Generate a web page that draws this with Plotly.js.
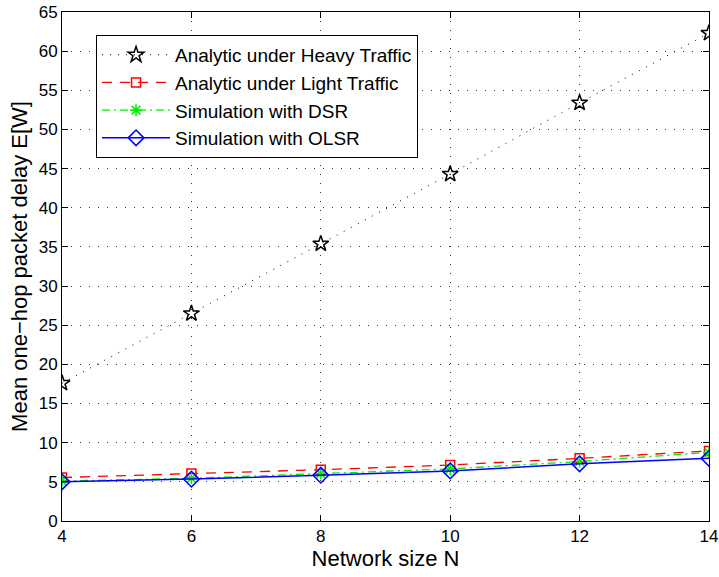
<!DOCTYPE html>
<html>
<head>
<meta charset="utf-8">
<script src="https://cdn.plot.ly/plotly-3.0.1.min.js"></script>
<style>html,body{margin:0;padding:0;background:#fff;}#chart{width:719px;height:577px;}</style>
</head>
<body>
<div id="chart"></div>
<script>
const networkSize = [4, 6, 8, 10, 12, 14];
const heavyTraffic = [17.6, 26.5, 35.4, 44.3, 53.4, 62.3];
const lightTraffic = [5.55, 6.05, 6.55, 7.15, 8.0, 8.95];
const simDSR = [5.1, 5.45, 6.05, 6.65, 7.6, 8.75];
const simOLSR = [5.0, 5.35, 5.85, 6.4, 7.3, 8.0];
const seriesNames = ['Analytic under Heavy Traffic', 'Analytic under Light Traffic', 'Simulation with DSR', 'Simulation with OLSR'];
const xTicks = [4, 6, 8, 10, 12, 14];
const yTicks = [0, 5, 10, 15, 20, 25, 30, 35, 40, 45, 50, 55, 60, 65];

const FONT = 'Liberation Sans, Arial, Helvetica, sans-serif';

const traces = [
  {x: networkSize, y: heavyTraffic, name: seriesNames[0], mode: 'lines+markers',
   line: {color: '#000', width: 1, dash: '1px,7px'},
   marker: {symbol: 'star-open', size: 12, color: '#000', line: {color: '#000', width: 1.5}}},
  {x: networkSize, y: lightTraffic, name: seriesNames[1], mode: 'lines+markers',
   line: {color: '#ff0000', width: 1.3, dash: '10px,8px'},
   marker: {symbol: 'square-open', size: 9, color: '#ff0000', line: {color: '#ff0000', width: 1.5}}},
  {x: networkSize, y: simDSR, name: seriesNames[2], mode: 'lines+markers',
   line: {color: '#00ee00', width: 1.3, dash: '8px,4px,2px,4px'},
   marker: {symbol: 'asterisk-open', size: 10, color: '#00ee00', line: {color: '#00ee00', width: 1.5}}},
  {x: networkSize, y: simOLSR, name: seriesNames[3], mode: 'lines+markers',
   line: {color: '#0000ff', width: 1.5},
   marker: {symbol: 'diamond-open', size: 12, color: '#0000ff', line: {color: '#0000ff', width: 1.5}}}
];

const axisCommon = {
  showline: true, linecolor: '#000', linewidth: 1, mirror: 'ticks',
  ticks: 'inside', ticklen: 6, tickcolor: '#000', tickwidth: 1,
  showgrid: true, gridcolor: '#333', gridwidth: 1, griddash: '1px,8px',
  zeroline: false,
  tickfont: {family: FONT, size: 17, color: '#000'}
};

const layout = {
  width: 719, height: 577,
  margin: {l: 62, r: 10, t: 12, b: 56},
  paper_bgcolor: '#fff', plot_bgcolor: '#fff',
  font: {family: FONT, size: 17, color: '#000'},
  showlegend: true,
  xaxis: Object.assign({}, axisCommon, {
    range: [4, 14], tickvals: xTicks, ticktext: xTicks.map(String),
    title: {text: 'Network size N', font: {family: FONT, size: 22, color: '#000'}, standoff: 3}
  }),
  yaxis: Object.assign({}, axisCommon, {
    range: [0, 65], tickvals: yTicks, ticktext: yTicks.map(String),
    title: {text: 'Mean one\u2212hop packet delay E[W]', font: {family: FONT, size: 22, color: '#000'}, standoff: 4}
  }),
  legend: {
    x: 0.0526, y: 0.955, xanchor: 'left', yanchor: 'top',
    bgcolor: '#fff', bordercolor: '#000', borderwidth: 1,
    font: {family: FONT, size: 19, color: '#000'},
    itemwidth: 68, tracegroupgap: 0
  }
};

Plotly.newPlot('chart', traces, layout, {displayModeBar: false, staticPlot: true});
</script>
</body>
</html>
